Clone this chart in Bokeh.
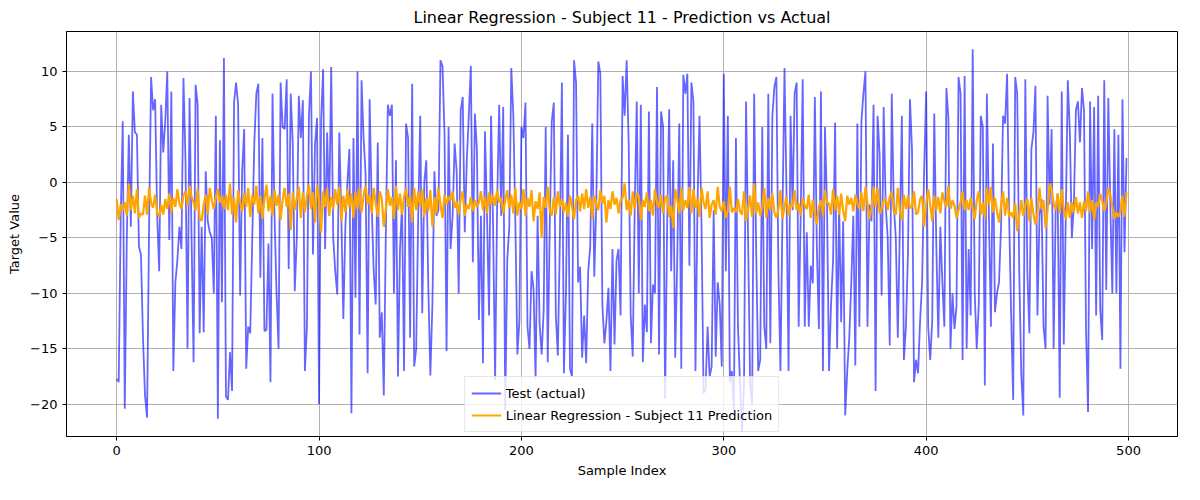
from bokeh.plotting import figure
from bokeh.models import Range1d, Legend, LegendItem, SingleIntervalTicker
from bokeh.embed import file_html
from bokeh.resources import INLINE

test_actual = [
-17.7,-18,-3,5.5,-20.4,-5,4.3,-4,8.2,4.5,4.3,-5.8,-6.5,-14,-19.2,-21.2,-4,9.5,6.5,7.5,-3,-8,7,2.7,5.5,
10,-5.2,8.2,-17,-9,-7,-4,-6,9.4,2,-15,7.6,-5,-16.2,8.8,7,-13.6,-4,-13.5,1,-3.5,-4.5,-5,-10,6,
-21.3,3.8,-10.8,11.2,-19.3,-19.6,-15.3,-18.8,7.2,9,7,-10.2,1,4.8,-16.8,-13,-13.6,-5,3.5,8,8.9,-8.6,4,-13.4,-13.3,
-5.5,-18,8,-3,-10,-15,9,5,4.8,9.3,-7.8,8,3.6,-9.8,-5,7.8,4,7.4,-17,-13,6,10,-6.5,3.4,5.8,
-20,5.6,10.2,-6,4.5,-3,10.4,-5,-8,-10.1,4.5,-3,-12.3,-4,0,3,-20.8,4,-10.4,10,-13.7,9.2,4,0.8,-17.2,
7.5,-2,-8,-11,3.6,-14,-11.7,-19.2,-4.5,7,6,7,-10,2,-17.5,-6,-2,-17,5.3,4,-14,8.9,-16.6,-15,-3,
6,-11.8,0,2,-9.5,-17.4,-11,1,-3,-2.5,11,10.5,4.4,-15.2,5,-6,-3,3.5,1,-10,6.5,7.7,-4.5,2,6,
10.5,-7.2,6.2,3,-12.4,-3,-16.3,4.6,-3,-12,6,-4,-17.8,-2,7,-3,6.8,-20.5,-7,-4,10.3,6,-3.5,-15.5,-12.5,
5,4,7.2,-13,-15,-8,-9.6,-17.7,-3,-12.8,-15.5,-11.5,5,-16.2,-4,5.5,7.2,-12,-15.6,-5,9,-17.2,-10,4.3,-16.8,
-17.5,11,9,-9,-7.6,-15.8,-12,-16.3,-8,-5.8,5.3,-8.5,-2,10.9,9.8,-11,-14.5,-12.5,-9.5,-17,-6,-14.6,-7,-6,-12,
9.6,6,11,3.5,-12,-15.7,-2,7.3,-10,7,-16.2,-11,-13.5,6.4,-14.5,-9.2,-10,8.6,-15.5,6.4,5,-19.5,-4,6.6,-8,
2,-15.8,-7,5.3,-16.8,9.7,8,9.8,-7.5,9,7.3,-17,-2,6,-4,-19,-18.6,-13,-17.5,-16.6,-2.5,-15.7,-9,-11,-16.6,
9.8,-8,6,-18,-17,-20.5,4,-13,-18,-22.5,-18,7.3,-5,-18,-20,8,-6,-17,-16,5,-13,-15,8,-14.5,6,
8.6,9.5,-8,-17,-3,10.3,-1,-17,6,-2.5,8,9,-13,-3,9.3,-13,-4.5,-13,-7.5,-9.1,7.7,-6,-13.2,8.2,-17,
5,-2,-17,-11,-7,5.4,-15,-2,-12.6,-3.5,-21,-17,-14,-9,-3,-16.5,5.3,-13,5.5,8,10,-13,-2,-3.5,7,
-18.8,6,2.5,-10.2,6.8,-2,-5,-14.7,8,-2,-5,-14,-4,6,-16,-13,-6.5,7.5,3,-18,-16,-17.2,-12.5,-9,1,
8.2,-13,-16,-12.5,6.2,-5.5,-14,-4,-9,-13,8.5,5.7,-15,-10,-13.2,-11.2,9.5,8,-16,9.6,-15,-6,-12,12,-10,
-15,-11,6,5,-18.3,8,-3,-13,3.5,-11.7,-10,-9,-4,6,5.3,9.8,-3,-12,-19.6,9.5,8,-8,-17.3,-21,9.3,
-8,-13.6,3,4.5,8.7,-12,-3,-1.5,-13,-15,7.8,-2,4.8,-15,-2.5,-1,-19.4,8.2,-14.6,-3,9.2,4.5,-5,-2,6.5,
7.3,3.6,8.5,6.5,-13.3,-20.7,7.3,-6,6.8,-12,7.8,-11.4,-14.2,9.2,-9.7,7.6,-2,-10,4.8,-10,4.3,-16.8,7.5,-6.3,2.2,
]

prediction = [
-1.5,-3.4,-2,-2.5,-1.8,-3,-0.1,-2.5,-1.2,-2.8,-0.6,-3.2,-2.8,-2.9,-1.2,-2.9,-0.5,-1.8,-2.3,-1.1,-2.7,-3.1,-2,-2.9,-1.5,
-2.4,-1,-2.7,-1.4,-2.2,-0.6,-1.9,-2.4,-1.2,-0.8,-2.1,-0.3,-1.3,-1.8,-2.5,-0.6,-3.2,-3.5,-2,-1.1,-2.9,-0.5,-1.6,-2.4,-1.3,
-0.6,-1.8,-1.2,-2.4,-1.1,-2.5,-0.1,-2.9,-1.4,-3.6,-0.7,-1.8,-2.6,-1,-2.2,-0.5,-3.1,-1.1,-2,-0.3,-2.8,-1.2,-3.3,-1.5,-0.2,
-2.6,-1.2,-3,-0.7,-2.1,-1.1,-3.4,-1.6,-0.5,-2.2,-1,-4.3,-0.9,-2.5,-1.4,-0.4,-3.2,-0.9,-2.7,-1.2,-0.2,-2.4,-0.9,-3.6,-0.3,
-1.5,-4.5,-0.8,-2.2,-0.5,-3,-1.3,-2.4,-0.6,-2,-0.4,-3.5,-1.2,-2.7,-0.6,-2.2,-1,-3.2,-0.8,-2.4,-0.5,-2.7,-1.2,-0.3,-2,
-1.1,-2.8,-0.5,-1.9,-3.1,-0.8,-1.5,-4,-2.4,-0.6,-2.1,-1.3,-3.3,-0.3,-2.5,-1,-2.9,-1.3,-0.6,-2.2,-1.2,-3.6,-0.5,-2.5,-0.8,
-2.2,-0.6,-3.1,-1.4,-2.6,-0.7,-4,-1.3,-2.8,-0.5,-2,-3.2,-1.1,-2,-1.3,-1.6,-0.8,-2.3,-1.7,-2.9,-1.5,-0.8,-3,-2,-2.4,
-1.3,-2.6,-1.6,-2.2,-1.8,-0.8,-2.5,-1.3,-2.8,-0.9,-2,-1.1,-2.1,-0.7,-1.8,-1.4,-2.8,-1.6,-0.7,-2.3,-1.1,-2.8,-0.5,-3,-1.8,
-2.4,-0.6,-3,-1.4,-2.2,-0.7,-3.5,-1.7,-2.4,-0.9,-5,-1.3,-2.3,-0.4,-2.5,-3,-1.3,-2.9,-0.8,-2.2,-1.5,-2.7,-1.8,-3.1,-1.2,
-2.2,-3.3,-1.6,-1.2,-2.6,-1,-2.4,-0.6,-2.3,-1.3,-3.3,-1.2,-1.9,-2.5,-0.7,-1.9,-1.2,-3.6,-1.6,-2.4,-0.8,-2,-1.4,-2.8,-1.6,
-1.4,-0.1,-2.5,-1.6,-3,-0.8,-2.4,-1,-1.2,-3.4,-1.6,-2.2,-0.9,-2.6,-1.6,-3,-0.6,-1.8,-2.3,-1.1,-2.8,-1.4,-1.2,-3.1,-2.1,
-4.1,-0.6,-1.5,-2.8,-0.5,-2.5,-1.6,-2.3,-0.4,-2.8,-0.6,-2.3,-1.5,-3.1,-0.5,-1.8,-2.4,-0.8,-3.2,-2,-1.6,-2.9,-0.4,-2.2,-2.6,
-1.7,-3.2,-2.5,-0.4,-2.7,-2.3,-2.7,-1.5,-2.6,-2.9,-0.8,-3.5,-2.4,-1.2,-3.1,-0.1,-2.8,-1.8,-3,-2.2,-0.5,-3.2,-1.4,-2.5,-1,
-2.7,-3.2,-2.4,-0.7,-3.3,-2.2,-1.3,-3,-1.9,-2.2,-0.7,-2.5,-1.9,-3,-1.4,-2.1,-2.4,-1.1,-3.2,-1.6,-2.8,-3.8,-2.2,-1.6,-3,
-0.7,-1.8,-1.9,-2.9,-0.6,-2.5,-1.2,-2.9,-1,-2.6,-3.5,-1.2,-2,-1.4,-2.6,-1.1,-1.9,-2.4,-0.9,-2.6,-0.4,-1.9,-3.3,-2.3,-0.4,
-2.2,-0.5,-2.8,-2.4,-1.6,-1.5,-2.5,-1.3,-0.8,-2.6,-2.9,-0.5,-2.5,-3.4,-1.1,-2.4,-1.2,-2.3,-2.2,-0.8,-2.9,-2.7,-1.5,-1.2,-4,
-2,-0.6,-2,-3.5,-1.2,-2.5,-1.3,-2.8,-0.9,-1.7,-2.2,-0.3,-2.4,-1.6,-2.1,-3.2,-2.5,-1.8,-0.8,-2.5,-1.6,-2.5,-1.4,-2.3,-3.3,
-1.6,-0.8,-2.9,-1.8,-3.2,-0.5,-2,-0.4,-2.7,-1.4,-2.6,-3.6,-2.1,-0.8,-3,-1.4,-3.1,-2.7,-3.2,-1.9,-4.4,-2.9,-1.6,-3,-2,
-1.5,-3.5,-1.4,-2.8,-3.8,-2.8,-0.5,-2.4,-1.6,-4.1,-2.5,-0.1,-0.6,-1.9,-2.5,-1,-2.8,-0.6,-2.4,-3.3,-1.8,-3.2,-1.8,-2.7,-1.3,
-2.8,-1.8,-3.2,-1.7,-2.6,-0.8,-2.7,-1.6,-3.4,-1.8,-2.2,-1,-1.7,-2.6,-1.9,-0.5,-1.1,-2.2,-3.3,-2.7,-3.1,-2.6,-1.2,-3.1,-0.9,
]

xs_t = list(range(len(test_actual)))
xs_p = list(range(len(prediction)))

p = figure(frame_width=1111, frame_height=405, output_backend="svg", toolbar_location=None,
           x_range=Range1d(-24.8, 524.2), y_range=Range1d(-22.9, 13.6),
           title="Linear Regression - Subject 11 - Prediction vs Actual",
           min_border_left=66, min_border_right=6, min_border_top=29, min_border_bottom=36)
p.title.align = "center"
p.title.text_font = "DejaVu Sans"
p.title.text_font_size = "16px"
p.title.text_font_style = "normal"
p.title.text_color = "black"
p.background_fill_color = "white"
p.outline_line_color = "black"
p.xaxis.axis_label = "Sample Index"
p.yaxis.axis_label = "Target Value"
for ax in (p.xaxis[0], p.yaxis[0]):
    ax.axis_label_text_font = "DejaVu Sans"
    ax.axis_label_text_font_size = "13px"
    ax.axis_label_text_font_style = "normal"
    ax.axis_label_text_color = "black"
    ax.major_label_text_font = "DejaVu Sans"
    ax.major_label_text_font_size = "13px"
    ax.major_label_text_color = "black"
    ax.minor_tick_line_color = None
    ax.major_tick_out = 4
    ax.major_tick_in = 0
    ax.axis_line_color = "black"
    ax.major_tick_line_color = "black"
p.xaxis.ticker = SingleIntervalTicker(interval=100)
p.yaxis.ticker = SingleIntervalTicker(interval=5)
p.grid.grid_line_color = "#b0b0b0"
p.grid.grid_line_alpha = 1.0

r1 = p.line(xs_t, test_actual, line_color="blue", line_alpha=0.6, line_width=1.8)
r2 = p.line(xs_p, prediction, line_color="orange", line_width=2.2)

leg = Legend(items=[LegendItem(label="Test (actual)", renderers=[r1]),
                    LegendItem(label="Linear Regression - Subject 11 Prediction", renderers=[r2])],
             location="bottom_center", label_text_font="DejaVu Sans", label_text_font_size="13px",
             label_text_color="black",
             border_line_color="#cccccc", background_fill_alpha=0.8,
             glyph_width=30, spacing=2, padding=6, margin=4, label_height=16)
p.add_layout(leg)

open("out.html", "w").write(file_html(p, INLINE))
